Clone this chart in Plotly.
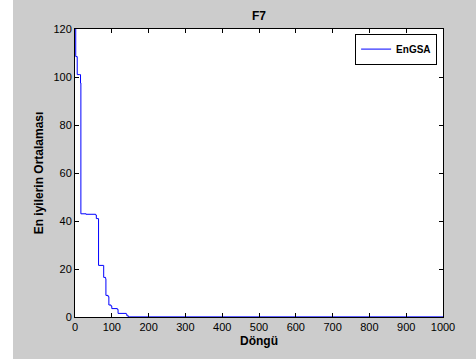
import plotly.graph_objects as go

# Data (iteration, best-average value), step-wise
iterations = [1, 2, 6, 13, 15, 16, 30, 56, 58, 63, 64, 77, 78, 83, 84, 90, 92, 98, 100, 115, 117, 139, 141, 145, 1000]
values = [120, 108.5, 101, 101, 97.5, 43, 42.8, 42.5, 41, 41, 21.5, 21.5, 16.5, 16, 9, 8.5, 5, 4.5, 3.5, 3.2, 1.5, 1.2, 0.5, 0.05, 0.0]

x_ticks = [0, 100, 200, 300, 400, 500, 600, 700, 800, 900, 1000]
y_ticks = [0, 20, 40, 60, 80, 100, 120]

font_family = "Liberation Sans, Arial, sans-serif"

fig = go.Figure()
fig.add_trace(go.Scatter(
    x=iterations, y=values, mode="lines", name="<b>EnGSA</b>",
    line=dict(color="#0000ff", width=1, shape="hv"),
))

fig.update_layout(
    width=463, height=359,
    margin=dict(l=62, r=33, t=29, b=42, autoexpand=False),
    paper_bgcolor="#cccccc",
    plot_bgcolor="#ffffff",
    font=dict(family=font_family, size=11, color="#000000"),
    title=dict(text="<b>F7</b>", x=0.5 * (62 + 430) / 463, xanchor="center",
               y=1 - 16 / 359, yanchor="middle", font=dict(size=12), automargin=False),
    showlegend=True,
    legend=dict(x=0.984, xanchor="right", y=0.984, yanchor="top",
                bgcolor="#ffffff", bordercolor="#000000", borderwidth=1,
                font=dict(size=10), itemwidth=30),
)

fig.update_xaxes(
    range=[0, 1000], tickvals=x_ticks, ticktext=[str(v) for v in x_ticks],
    showgrid=False, zeroline=False, showline=True, linecolor="#000000", linewidth=1,
    mirror="ticks", ticks="inside", ticklen=4, tickcolor="#000000", automargin=False,
    title=dict(text="<b>Döngü</b>", font=dict(size=12), standoff=4),
)
fig.update_yaxes(
    range=[0, 120], tickvals=y_ticks, ticktext=[str(v) for v in y_ticks],
    showgrid=False, zeroline=False, showline=True, linecolor="#000000", linewidth=1,
    mirror="ticks", ticks="inside", ticklen=4, tickcolor="#000000", automargin=False,
    title=dict(text="<b>En iyilerin Ortalaması</b>", font=dict(size=12), standoff=7),
)

fig.write_html("out.html", config={"displayModeBar": False},
               post_script="document.body.style.margin='0 0 0 13px';"
                           "document.body.style.background='#ffffff';"
                           "document.body.style.overflow='hidden';")
